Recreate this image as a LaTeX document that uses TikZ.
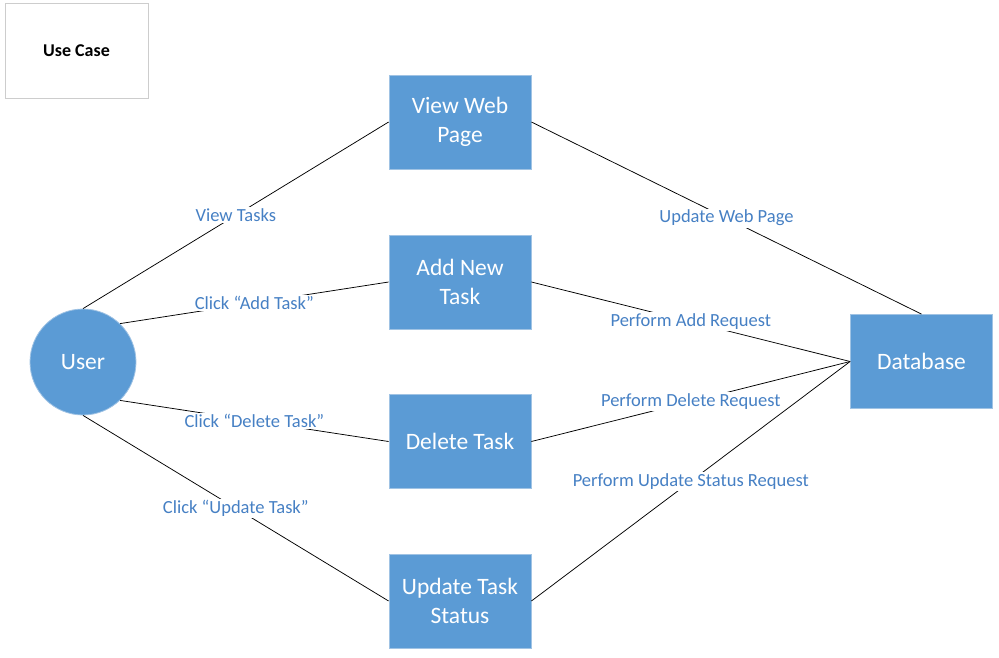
\documentclass[tikz,border=0pt]{standalone}
\usepackage{fontspec}
\setmainfont{Carlito}
\definecolor{boxblue}{RGB}{91,155,213}
\definecolor{boxedge}{RGB}{160,195,228}
\definecolor{lblblue}{RGB}{70,128,196}
\definecolor{casegray}{RGB}{205,205,205}
\begin{document}
\begin{tikzpicture}[x=1pt,y=-1pt,
  ucbox/.style={draw=boxedge,line width=0.8pt,fill=boxblue,minimum width=142pt,minimum height=94pt,
    inner sep=0pt,align=center,text=white,font=\fontsize{23.5}{29}\selectfont},
  ucuser/.style={circle,draw=boxedge,line width=0.8pt,fill=boxblue,minimum size=106pt,inner sep=0pt,
    text=white,font=\fontsize{23.5}{29}\selectfont},
  lbl/.style={fill=white,inner sep=1.5pt,text=lblblue,font=\fontsize{18.5}{22}\selectfont},
  conn/.style={draw=black,line width=0.75pt}]
\useasboundingbox (0,0) rectangle (999,657);
\node[draw=casegray,line width=0.8pt,fill=white,minimum width=143pt,minimum height=95pt,inner sep=0pt,
  font=\fontsize{18}{22}\selectfont\bfseries] (case) at (76.5,50.5) {Use Case};
\node[ucuser] (user) at (83,362) {User};
\node[ucbox] (view) at (460,122) {View Web\\Page};
\node[ucbox] (add) at (460,282) {Add New\\Task};
\node[ucbox] (del) at (460,441.5) {Delete Task};
\node[ucbox] (upd) at (460,601) {Update Task\\Status};
\node[ucbox] (db) at (921.5,361.5) {Database};
\draw[conn] (user.north) -- node[lbl] {View Tasks} (view.west);
\draw[conn] (user.46) -- node[lbl] {Click “Add Task”} (add.west);
\draw[conn] (user.-46) -- node[lbl] {Click “Delete Task”} (del.west);
\draw[conn] (user.south) -- node[lbl] {Click “Update Task”} (upd.west);
\draw[conn] (view.east) -- node[lbl] {Update Web Page} (db.north);
\draw[conn] (add.east) -- node[lbl] {Perform Add Request} (db.west);
\draw[conn] (del.east) -- node[lbl] {Perform Delete Request} (db.west);
\draw[conn] (upd.east) -- node[lbl] {Perform Update Status Request} (db.west);
\end{tikzpicture}
\end{document}
